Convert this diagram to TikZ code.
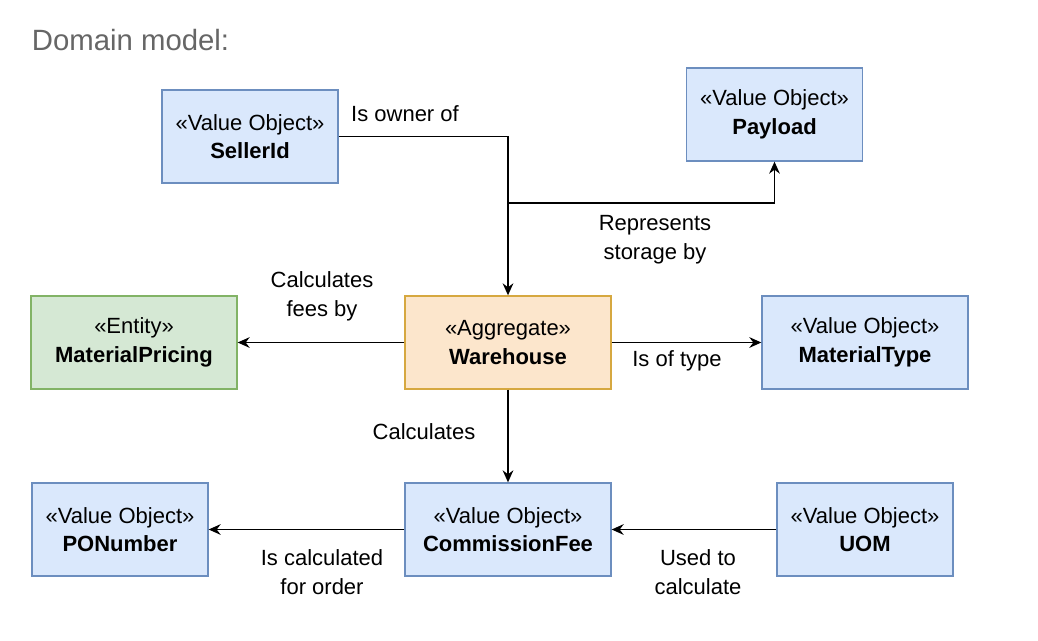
\documentclass[tikz,border=0pt]{standalone}
\usepackage{fontspec}
\setmainfont{Liberation Sans}
\usetikzlibrary{arrows.meta}
\definecolor{voFill}{HTML}{DAE8FC}
\definecolor{voLine}{HTML}{6C8EBF}
\definecolor{enFill}{HTML}{D5E8D4}
\definecolor{enLine}{HTML}{82B366}
\definecolor{agFill}{HTML}{FCE6CC}
\definecolor{agLine}{HTML}{D6A840}
\definecolor{titleGray}{HTML}{666666}
\begin{document}
\begin{tikzpicture}[x=0.75pt,y=-0.75pt,
  >={Stealth[length=9pt,width=8pt,inset=3pt]},
  every path/.style={line width=1.4pt},
  box/.style={draw,line width=1pt,align=center,minimum height=69.75pt,
    font=\fontsize{16.5}{21.5}\selectfont},
  narrow/.style={box,minimum width=132pt},
  wide/.style={box,minimum width=154.5pt},
  vobj/.style={fill=voFill,draw=voLine},
  entity/.style={fill=enFill,draw=enLine},
  aggr/.style={fill=agFill,draw=agLine},
  lbl/.style={align=center,inner sep=0pt,font=\fontsize{16.5}{21.5}\selectfont}]
\useasboundingbox (0,0) rectangle (1038,640);

\node[anchor=west,inner sep=0pt,text=titleGray,font=\fontsize{22}{26}\selectfont] (title) at (31,40) {Domain model:};

% boxes
\node[narrow,vobj] (seller) at (250,136.5) {«Value Object»\\\textbf{SellerId}};
\node[narrow,vobj] (payload) at (774.5,114.5) {«Value Object»\\\textbf{Payload}};
\node[wide,entity] (pricing) at (134,342.5) {«Entity»\\\textbf{MaterialPricing}};
\node[wide,aggr] (warehouse) at (508,342.5) {«Aggregate»\\\textbf{Warehouse}};
\node[wide,vobj] (mattype) at (865,342.5) {«Value Object»\\\textbf{MaterialType}};
\node[narrow,vobj] (ponumber) at (120,529.5) {«Value Object»\\\textbf{PONumber}};
\node[wide,vobj] (fee) at (508,529.5) {«Value Object»\\\textbf{CommissionFee}};
\node[narrow,vobj] (uom) at (865,529.5) {«Value Object»\\\textbf{UOM}};

% connectors
\coordinate (fork) at (508,203);
\draw[->] (seller.east) -| (warehouse.north);
\draw[->] (fork) -| (payload.south);
\draw[->] (warehouse.west) -- (pricing.east);
\draw[->] (warehouse.east) -- (mattype.west);
\draw[->] (warehouse.south) -- (fee.north);
\draw[->] (fee.west) -- (ponumber.east);
\draw[->] (uom.west) -- (fee.east);

% labels
\node[lbl] (ownerlbl) at (405,114) {Is owner of};
\node[lbl] (storagelbl) at (655,240) {Represents\\storage by};
\node[lbl] (feeslbl) at (322,296) {Calculates\\fees by};
\node[lbl] (typelbl) at (677,361) {Is of type};
\node[lbl] (calclbl) at (424,432) {Calculates};
\node[lbl] (orderlbl) at (322,572) {Is calculated\\for order};
\node[lbl] (usedlbl) at (698,572) {Used to\\calculate};
\end{tikzpicture}
\end{document}
